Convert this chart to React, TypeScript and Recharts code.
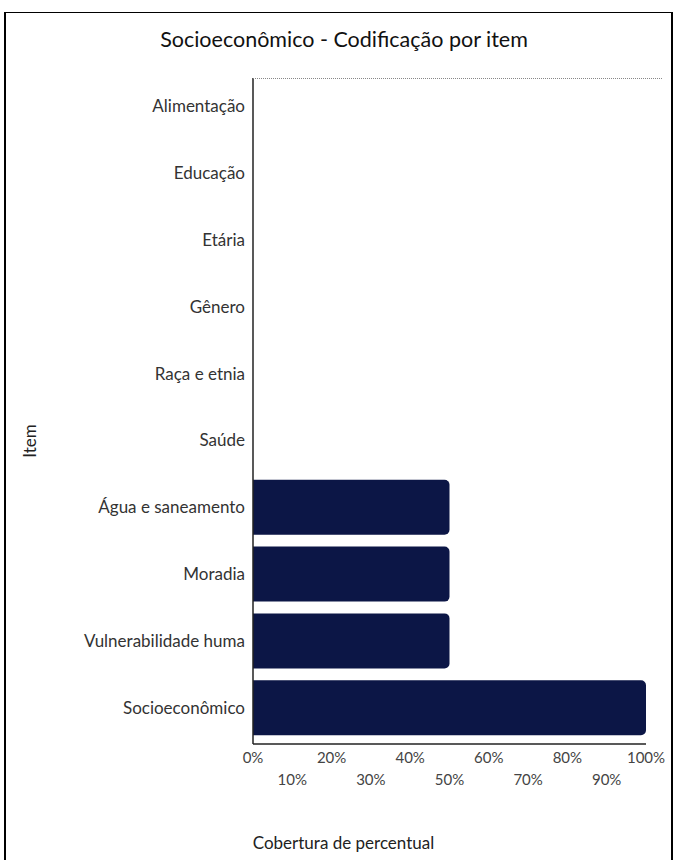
import React from 'react';
import { BarChart, Bar, XAxis, YAxis } from 'recharts';

const categories = [
  'Alimentação',
  'Educação',
  'Etária',
  'Gênero',
  'Raça e etnia',
  'Saúde',
  'Água e saneamento',
  'Moradia',
  'Vulnerabilidade humana',
  'Socioeconômico',
];
const coverage = [0, 0, 0, 0, 0, 0, 0.5, 0.5, 0.5, 1];
const xTicks = [0, 0.1, 0.2, 0.3, 0.4, 0.5, 0.6, 0.7, 0.8, 0.9, 1];

const data = categories.map((item, i) => ({ item, value: coverage[i] }));

const FONT = 'Lato, "Noto Sans", sans-serif';

const XTick = (props: any) => {
  const { x, y, payload, index } = props;
  const shift = index % 2 === 1 ? 22 : 0;
  return (
    <text x={x} y={y + shift} dy="0.71em" textAnchor="middle" fill="#444" fontSize={15} fontFamily={FONT}>
      {`${Math.round(payload.value * 100)}%`}
    </text>
  );
};

export default function App() {
  return (
    <div style={{ position: 'absolute', left: 0, top: 0, width: 674, height: 860, overflow: 'hidden', background: '#fff' }}>
      <div
        style={{
          position: 'absolute',
          left: 4,
          top: 12,
          width: 669,
          height: 870,
          borderTop: '1px solid #000',
          borderLeft: '2px solid #000',
          borderRight: '2px solid #000',
          boxSizing: 'border-box',
        }}
      />
      <div
        style={{
          position: 'absolute',
          left: 0,
          top: 26,
          width: 688,
          textAlign: 'center',
          fontFamily: FONT,
          fontSize: 21.5,
          color: '#111',
        }}
      >
        Socioeconômico - Codificação por item
      </div>
      <div style={{ position: 'absolute', left: 0, top: 0 }}>
        <BarChart
          width={674}
          height={860}
          data={data}
          layout="vertical"
          margin={{ top: 78, right: 28, bottom: 0, left: 0 }}
        >
          <XAxis
            type="number"
            domain={[0, 1]}
            ticks={xTicks}
            interval={0}
            tick={<XTick />}
            tickLine={false}
            axisLine={{ stroke: '#222', strokeWidth: 1.5 }}
            height={116}
            label={{
              value: 'Cobertura de percentual',
              position: 'center',
              dx: -106,
              dy: 41,
              fill: '#222',
              fontSize: 17,
              fontFamily: FONT,
            }}
          />
          <YAxis
            type="category"
            dataKey="item"
            width={253}
            padding={{ top: -5, bottom: 3 }}
            tickLine={false}
            axisLine={{ stroke: '#222', strokeWidth: 1.5 }}
            tick={{ fill: '#333', fontSize: 17, fontFamily: FONT }}
            tickFormatter={(v: string) => (v.length > 20 ? v.slice(0, 20) : v)}
            interval={0}
            label={{
              value: 'Item',
              angle: -90,
              position: 'center',
              dx: -97,
              dy: 30,
              fill: '#222',
              fontSize: 17,
              fontFamily: FONT,
            }}
          />
          <Bar dataKey="value" fill="#0c1646" barSize={55} radius={[0, 5, 5, 0]} isAnimationActive={false} />
        </BarChart>
      </div>
      <div
        style={{
          position: 'absolute',
          left: 253,
          top: 78,
          width: 409,
          height: 0,
          borderTop: '1px dotted #888',
          pointerEvents: 'none',
        }}
      />
    </div>
  );
}
